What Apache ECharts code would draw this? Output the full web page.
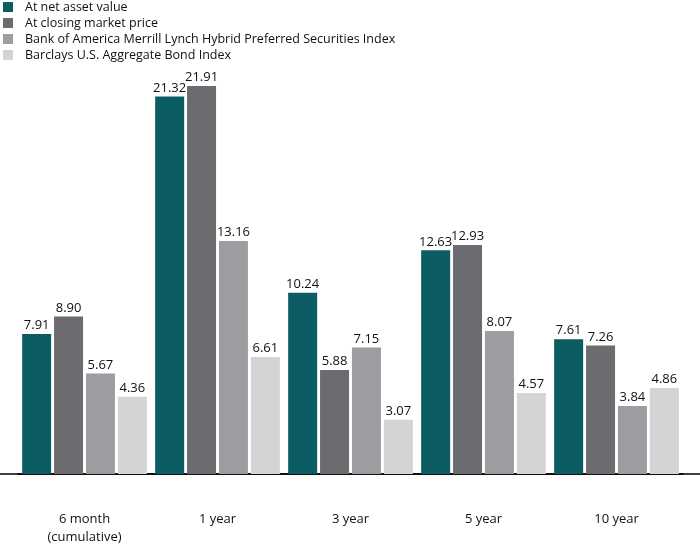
<!DOCTYPE html>
<html><head><meta charset="utf-8">
<script src="https://cdn.jsdelivr.net/npm/echarts@6/dist/echarts.min.js"></script>
<style>html,body{margin:0;padding:0;background:#fff}#c{width:700px;height:545px}</style>
</head><body><div id="c"></div>
<script>
const categories = ["6 month\n(cumulative)", "1 year", "3 year", "5 year", "10 year"];
const seriesNames = ["At net asset value", "At closing market price", "Bank of America Merrill Lynch Hybrid Preferred Securities Index", "Barclays U.S. Aggregate Bond Index"];
const navValues = [7.91, 21.32, 10.24, 12.63, 7.61];
const marketValues = [8.90, 21.91, 5.88, 12.93, 7.26];
const bofaValues = [5.67, 13.16, 7.15, 8.07, 3.84];
const barclaysValues = [4.36, 6.61, 3.07, 4.57, 4.86];
const colors = ["#0b5d63", "#6c6b70", "#9b9da0", "#d4d4d7"];
const allValues = [navValues, marketValues, bofaValues, barclaysValues];
const FONT = "'Open Sans',sans-serif";

const chart = echarts.init(document.getElementById('c'));
chart.setOption({
  animation: false,
  textStyle: {fontFamily: FONT},
  legend: {
    orient: 'vertical', left: 3, top: 0, padding: 0, itemWidth: 10, itemHeight: 10, itemGap: 2,
    icon: 'rect', textStyle: {fontSize: 12.5, lineHeight: 14, color: '#111', fontFamily: FONT, padding: [0, 0, 0, 7]}
  },
  grid: {left: 18, right: 17, top: 49, bottom: 71, outerBoundsMode: 'none', containLabel: false},
  xAxis: {
    type: 'category', data: categories,
    axisLine: {lineStyle: {color: '#000', width: 1.5}},
    axisTick: {show: false},
    axisLabel: {margin: 36, fontSize: 13, color: '#111', lineHeight: 18, fontFamily: FONT}
  },
  yAxis: {type: 'value', min: 0, max: 24, show: false, splitLine: {show: false}},
  series: allValues.map((v, i) => ({
    name: seriesNames[i], type: 'bar', data: v,
    barWidth: 29, barGap: '10%', barCategoryGap: '6%',
    itemStyle: {color: colors[i]},
    label: {show: true, position: 'top', distance: 2, fontSize: 13, color: '#111', fontFamily: FONT,
      formatter: p => p.value.toFixed(2)}
  }))
});
const y0 = chart.convertToPixel({yAxisIndex: 0}, 0);
chart.setOption({graphic: [{type: 'line', shape: {x1: 0, y1: y0, x2: 700, y2: y0}, style: {stroke: '#000', lineWidth: 1.5}}]});
</script></body></html>
